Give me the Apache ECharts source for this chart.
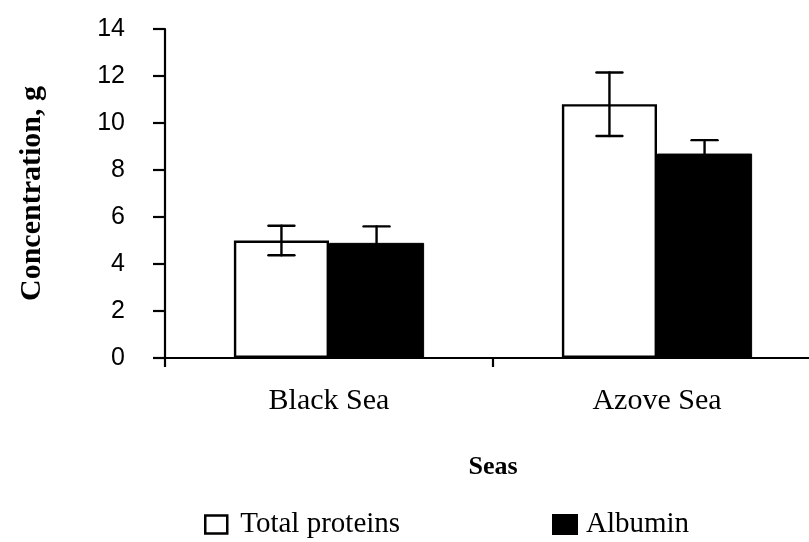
<!DOCTYPE html>
<html>
<head>
<meta charset="utf-8">
<script src="https://cdn.jsdelivr.net/npm/echarts@6/dist/echarts.min.js"></script>
<style>
  html, body { margin: 0; padding: 0; background: #fff; overflow: hidden; }
  /* the x axis runs past the right edge of the picture, so the chart is a bit wider than the page */
  #chart { width: 821px; height: 542px; }
</style>
</head>
<body>
<div id="chart"></div>
<script>
// data
var categories = ['Black Sea', 'Azove Sea'];
var totalProteins = [5.0, 10.8];
var totalProteinsErr = [0.63, 1.35];
var albumin = [4.9, 8.7];
var albuminErr = [0.7, 0.57];
var yTicks = [0, 2, 4, 6, 8, 10, 12, 14];

var serif = '"Liberation Serif", "Times New Roman", serif';
var sans = '"Liberation Sans", Arial, sans-serif';
var catGap = 0.42; // barCategoryGap

var chart = echarts.init(document.getElementById('chart'));

// error bars drawn over the bars, offset to the bar's slot in the category
function errorSeries(name, values, errs, slot) {
    return {
        type: 'custom',
        name: name + ' err',
        z: 10,
        silent: true,
        data: values.map(function (v, i) { return [i, v, errs[i]]; }),
        renderItem: function (params, api) {
            var catW = api.size([1, 0])[0];
            var barW = catW * (1 - catGap) / 2;
            var dx = slot === 0 ? -barW / 2 : barW / 2;
            var top = api.coord([api.value(0), api.value(1) + api.value(2)]);
            var bot = api.coord([api.value(0), api.value(1) - api.value(2)]);
            var x = top[0] + dx;
            var cap = 13;
            var st = { stroke: '#000', lineWidth: 2.4, lineCap: 'round' };
            return {
                type: 'group',
                children: [
                    { type: 'line', shape: { x1: x, y1: top[1], x2: x, y2: bot[1] }, style: st },
                    { type: 'line', shape: { x1: x - cap, y1: top[1], x2: x + cap, y2: top[1] }, style: st },
                    { type: 'line', shape: { x1: x - cap, y1: bot[1], x2: x + cap, y2: bot[1] }, style: st }
                ]
            };
        }
    };
}

var option = {
    animation: false,
    backgroundColor: '#fff',
    grid: { left: 165, right: 0, top: 29, bottom: 184, containLabel: false },
    legend: [
        {
            left: 199, top: 505,
            data: [{ name: 'Total proteins', icon: 'rect' }],
            itemWidth: 22, itemHeight: 18, itemGap: 20,
            itemStyle: { color: '#fff', borderColor: '#000', borderWidth: 2.5 },
            textStyle: { fontFamily: serif, fontSize: 29, color: '#000', padding: [0, 0, 0, 8] }
        },
        {
            left: 547, top: 505,
            data: [{ name: 'Albumin', icon: 'rect' }],
            itemWidth: 24, itemHeight: 19,
            textStyle: { fontFamily: serif, fontSize: 29, color: '#000', padding: [0, 0, 0, 4] }
        }
    ],
    xAxis: {
        type: 'category',
        data: categories,
        name: 'Seas',
        nameLocation: 'middle',
        nameGap: 96,
        nameTextStyle: { fontFamily: serif, fontSize: 26, fontWeight: 'bold', color: '#000' },
        axisLine: { lineStyle: { color: '#000', width: 2.2 } },
        axisTick: { show: true, length: 9, lineStyle: { color: '#000', width: 2.2 } },
        axisLabel: { margin: 28, fontFamily: serif, fontSize: 30, color: '#000' }
    },
    yAxis: {
        type: 'value',
        min: 0, max: 14, interval: 2,
        name: 'Concentration, g',
        nameLocation: 'middle',
        nameRotate: 90,
        nameGap: 118,
        nameTextStyle: { fontFamily: serif, fontSize: 30, fontWeight: 'bold', color: '#000' },
        splitLine: { show: false },
        axisLine: { show: true, lineStyle: { color: '#000', width: 2.2 } },
        axisTick: { show: true, length: 12, lineStyle: { color: '#000', width: 2.2 } },
        axisLabel: {
            margin: 40, fontFamily: sans, fontSize: 25, color: '#000',
            formatter: function (v) { return yTicks.indexOf(v) >= 0 ? String(v) : ''; }
        }
    },
    series: [
        {
            name: 'Total proteins',
            type: 'bar',
            data: totalProteins,
            barGap: '0%',
            barCategoryGap: (catGap * 100) + '%',
            itemStyle: { color: '#fff', borderColor: '#000', borderWidth: 2.4 },
            emphasis: { disabled: true }
        },
        {
            name: 'Albumin',
            type: 'bar',
            data: albumin,
            barGap: '0%',
            barCategoryGap: (catGap * 100) + '%',
            itemStyle: { color: '#000', borderColor: '#000', borderWidth: 1 },
            emphasis: { disabled: true }
        },
        errorSeries('Total proteins', totalProteins, totalProteinsErr, 0),
        errorSeries('Albumin', albumin, albuminErr, 1)
    ]
};

option && chart.setOption(option);
</script>
</body>
</html>
